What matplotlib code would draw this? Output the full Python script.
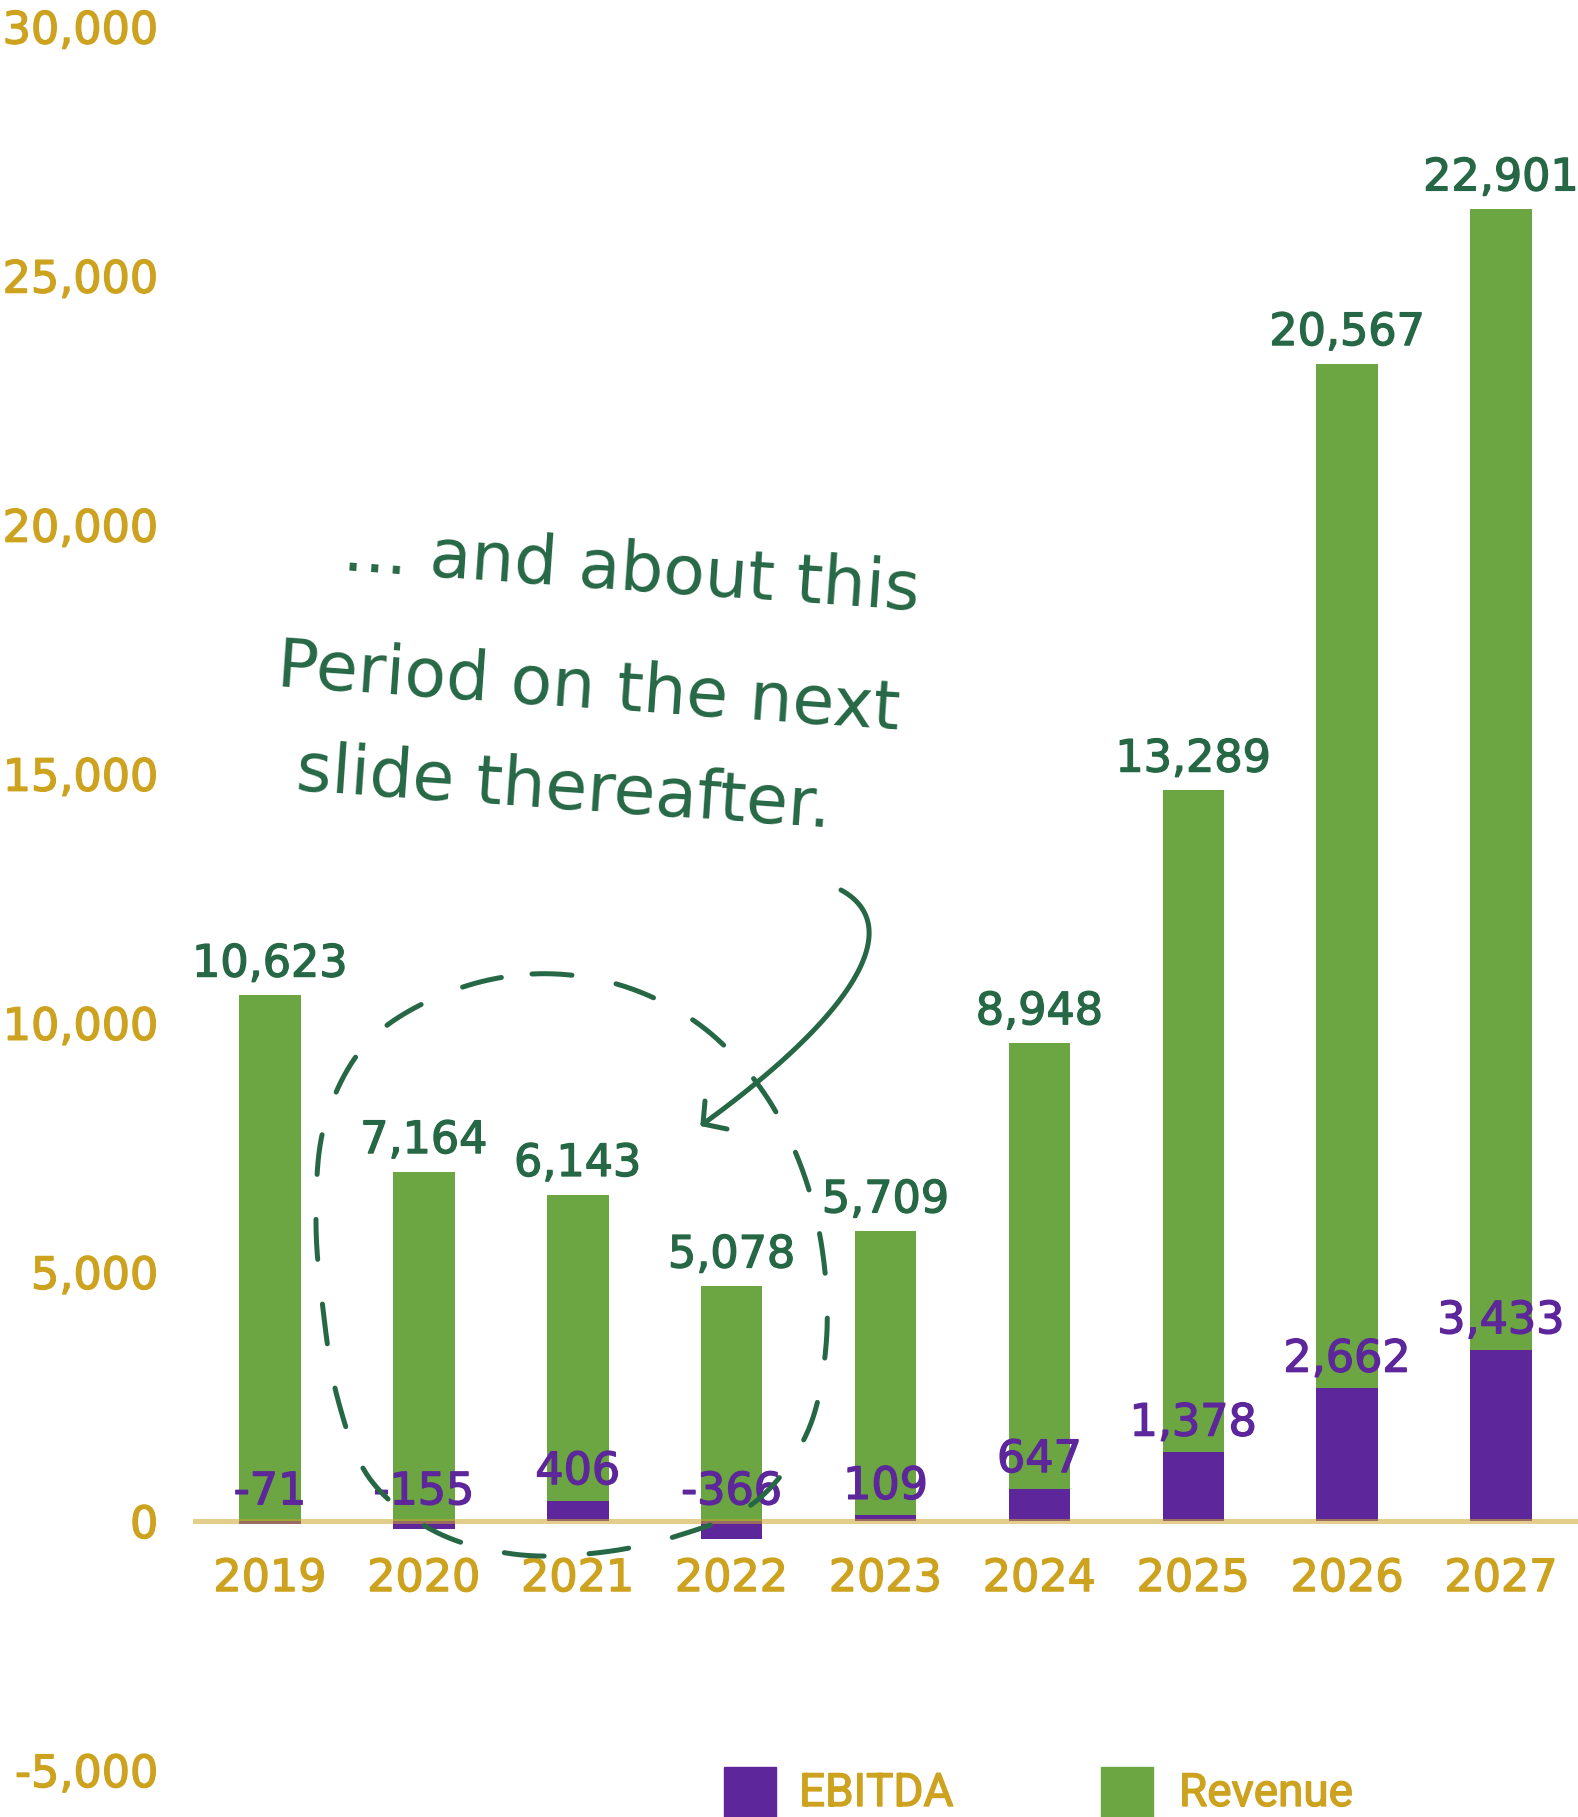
import matplotlib
matplotlib.use('Agg')
import matplotlib.pyplot as plt
import matplotlib.patheffects as pe
from matplotlib.patches import Rectangle
from matplotlib.ticker import FuncFormatter
import numpy as np

#%% Data

years = ['2019', '2020', '2021', '2022', '2023', '2024', '2025', '2026', '2027']
revenue = [10623, 7164, 6143, 5078, 5709, 8948, 13289, 20567, 22901]
ebitda = [-71, -155, 406, -366, 109, 647, 1378, 2662, 3433]
yticks = [-5000, 0, 5000, 10000, 15000, 20000, 25000, 30000]

note_lines = ['... and about this', 'Period on the next', 'slide thereafter.']

#%% Colours

green = '#6BA643'
purple = '#5D279B'
dark_green = '#266845'
gold = '#CDA21F'

W, H = 1578, 1817
fig = plt.figure(figsize=(W/100, H/100), dpi=100)

def thick(col):
    # slightly heavier digits
    return [pe.withStroke(linewidth=1.0, foreground=col)]

#%% Bars

ax = fig.add_axes([193/W, 1-1770/H, (W-193)/W, (1770-26.5)/H])
x = np.arange(len(years))

ax.bar(x, revenue, bottom=ebitda, width=0.4, color=green, zorder=2, label='Revenue')
ax.bar(x, ebitda, width=0.4, color=purple, zorder=3, label='EBITDA')
ax.axhline(0, color='#CDA52E', alpha=0.55, lw=3.6, zorder=4)

for i in range(len(years)):
    top = ebitda[i] + revenue[i]
    ax.annotate(f'{revenue[i]:,}', (x[i], top), xytext=(0, 13.5), textcoords='offset points',
                ha='center', va='baseline', fontsize=32, color=dark_green, zorder=5,
                path_effects=thick(dark_green))
    ax.annotate(f'{ebitda[i]:,}', (x[i], max(ebitda[i], 0)), xytext=(0, 12), textcoords='offset points',
                ha='center', va='baseline', fontsize=32, color=purple, zorder=5,
                path_effects=thick(purple))

ax.set_xlim(-0.5, 8.5)
ax.set_ylim(-5000, 30000)
ax.set_yticks(yticks)
ax.yaxis.set_major_formatter(FuncFormatter(lambda v, p: f'{v:,.0f}'))
ax.set_xticks(x, years)
ax.spines['bottom'].set_position(('data', 0))
for s in ax.spines.values():
    s.set_visible(False)
ax.tick_params(axis='y', length=0, pad=25, labelsize=32, labelcolor=gold)
ax.tick_params(axis='x', length=0, pad=26, labelsize=32, labelcolor=gold)
for lab in ax.get_xticklabels() + ax.get_yticklabels():
    lab.set_path_effects(thick(gold))
ax.patch.set_alpha(0)

#%% Legend, bottom centre

for lab, col, x0, xt in [('EBITDA', purple, 724, 799), ('Revenue', green, 1101, 1179)]:
    fig.add_artist(Rectangle((x0/W, 1-(1767+52)/H), 52/W, 52/H, transform=fig.transFigure,
                             color=col))
    fig.text(xt/W, 1-1806/H, lab, fontsize=33, color=gold, va='baseline',
             family='Roboto', path_effects=thick(gold))

#%% Hand drawn note, circle and arrow (pixel coordinates)

ov = fig.add_axes([0, 0, 1, 1])
ov.set_xlim(0, W)
ov.set_ylim(H, 0)
ov.axis('off')
ov.patch.set_alpha(0)

# loop around 2020-2022
loop = np.array([(532, 974), (620, 985), (700, 1025), (762, 1090), (802, 1169),
                 (823, 1255), (826, 1346), (807, 1433), (755, 1502), (677, 1536),
                 (596, 1553), (513, 1554), (434, 1531), (370, 1479), (338, 1400),
                 (323, 1309), (316, 1217), (325, 1123), (367, 1043), (444, 994)], float)

def closed_spline(pts, n=25):
    out = []
    N = len(pts)
    t = np.linspace(0, 1, n, endpoint=False)[:, None]
    for i in range(N):
        p0, p1, p2, p3 = pts[i-1], pts[i], pts[(i+1) % N], pts[(i+2) % N]
        out.append(0.5*((2*p1) + (-p0+p2)*t + (2*p0-5*p1+4*p2-p3)*t**2 + (-p0+3*p1-3*p2+p3)*t**3))
    out = np.vstack(out)
    return np.vstack([out, out[:1]])

c = closed_spline(loop)
ov.plot(c[:, 0], c[:, 1], color=dark_green, lw=3.6, dashes=(8, 9),
        dash_capstyle='round', solid_capstyle='round')

# curved arrow
P = np.array([(841, 890), (905, 925), (860, 1010), (703, 1124)], float)
t = np.linspace(0, 1, 100)[:, None]
b = (1-t)**3*P[0] + 3*(1-t)**2*t*P[1] + 3*(1-t)*t**2*P[2] + t**3*P[3]
ov.plot(b[:, 0], b[:, 1], color=dark_green, lw=3.6, solid_capstyle='round')
ov.plot([705, 703, 727], [1101, 1124, 1129], color=dark_green, lw=3.6,
        solid_capstyle='round', solid_joinstyle='round')

for line, (tx, ty) in zip(note_lines, [(342, 570), (276, 686), (295, 790)]):
    ov.text(tx, ty, line, fontsize=49, color=dark_green, rotation=-4,
            rotation_mode='anchor', ha='left', va='baseline')

fig.savefig('out.png', dpi=100)
